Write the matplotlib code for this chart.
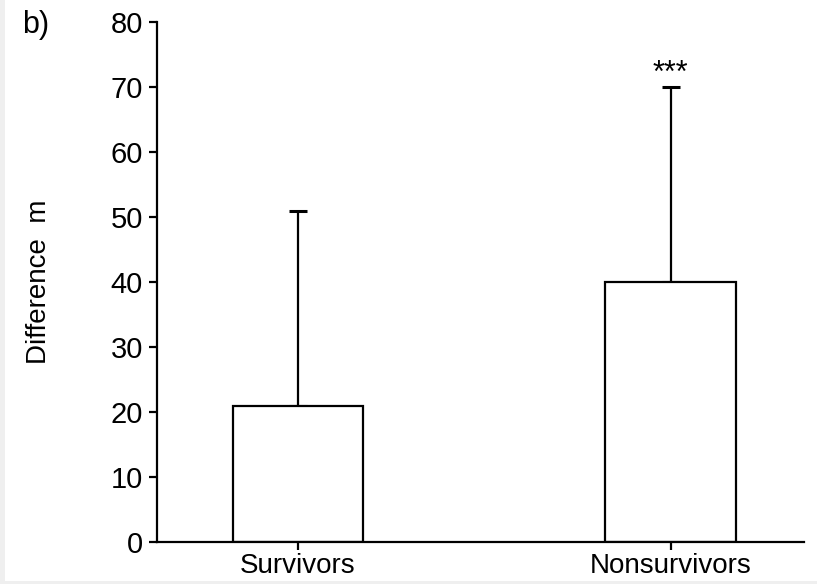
import numpy as np
import matplotlib
matplotlib.use("Agg")
import matplotlib.pyplot as plt
from matplotlib.patches import Rectangle

plt.rcParams['font.family'] = ['Liberation Sans', 'DejaVu Sans']

groups = ["Survivors", "Nonsurvivors"]
means = [21, 40]
sd = [30, 30]
stars = ["", "***"]

W, H = 817, 584
fig = plt.figure(figsize=(W / 100, H / 100), dpi=100)
fig.patch.set_facecolor('white')

ax = fig.add_axes([157 / W, (H - 542) / H, (804 - 157) / W, (542 - 22) / H])
ax.set_facecolor('none')

x = np.arange(len(groups))
ax.bar(x, means, width=0.351, color='white', edgecolor='black', linewidth=1.6, zorder=2)
ax.errorbar(x, means, yerr=[np.zeros(len(sd)), sd], fmt='none', ecolor='black',
            elinewidth=1.6, capsize=6.5, capthick=2.2, zorder=1)
for xi, m, s, t in zip(x, means, sd, stars):
    if t:
        ax.text(xi, m + s + 0.8, t, ha='center', va='baseline', fontsize=22)

ax.set_xlim(-0.378, 1.357)
ax.set_ylim(0, 80)
ax.set_yticks(np.arange(0, 81, 10))
ax.set_xticks(x)
ax.set_xticklabels(groups)
ax.spines['top'].set_visible(False)
ax.spines['right'].set_visible(False)
ax.spines['left'].set_linewidth(1.6)
ax.spines['bottom'].set_linewidth(1.6)
ax.tick_params(axis='both', direction='out', length=6, width=1.6, labelsize=21, pad=4)
ax.tick_params(axis='x', labelsize=20, pad=2)
ax.set_ylabel("Difference  m", fontsize=20, labelpad=42)

fig.text(22 / W, 1 - 25 / H, "b)", fontsize=22, ha='left', va='center')

# grey frame strips along the left and bottom edges
fig.patches.append(Rectangle((0, 0), 5 / W, 1, transform=fig.transFigure,
                             facecolor='#efefef', edgecolor='none', zorder=10))
fig.patches.append(Rectangle((0, 0), 1, 3 / H, transform=fig.transFigure,
                             facecolor='#efefef', edgecolor='none', zorder=10))

fig.savefig("out.png", dpi=100)
